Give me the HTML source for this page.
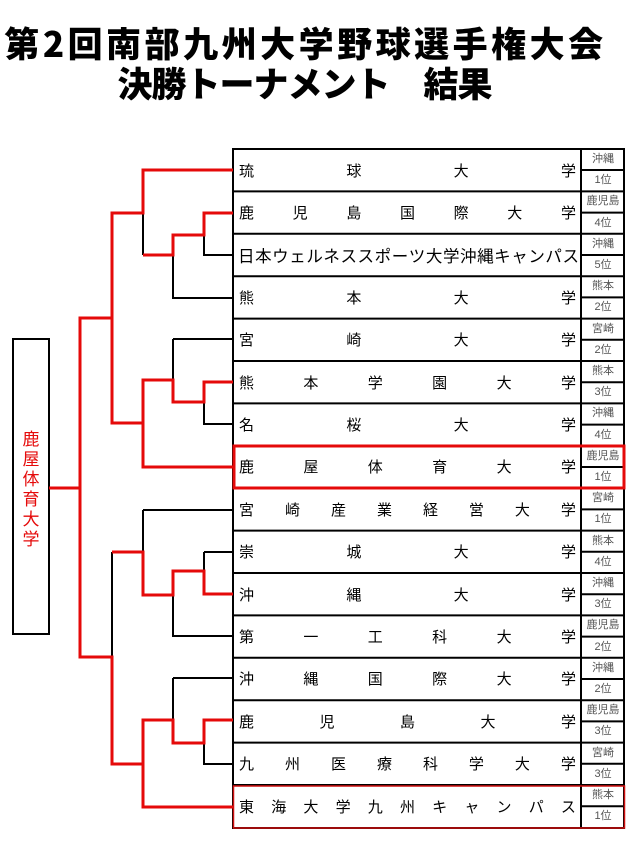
<!DOCTYPE html>
<html><head><meta charset="utf-8"><style>
body{margin:0;background:#fff;width:635px;height:846px;position:relative;overflow:hidden;font-family:"Liberation Sans","Noto Sans CJK JP",sans-serif}
.t{position:absolute;left:0;width:635px;text-align:center;font-family:"Noto Sans CJK JP",sans-serif;font-weight:900;color:#000;white-space:nowrap}
.row{position:absolute;left:234px;width:347px;height:42px;display:flex;justify-content:space-between;align-items:center;padding:0 5px 0 5px;box-sizing:border-box;font-size:15px;color:#000}
.p{position:absolute;left:582px;width:42px;height:21px;font-size:11px;color:#555;text-align:center;line-height:21px}
svg{position:absolute;left:0;top:0}
</style></head><body>
<div class="t" style="top:23px;font-size:35px;line-height:40px;left:-12px;letter-spacing:3.5px">第2回南部九州大学野球選手権大会</div>
<div class="t" style="top:63px;font-size:35px;line-height:40px;left:-13px;letter-spacing:-1px">決勝トーナメント　結果</div>

<svg width="635" height="846">
<g stroke="#000" stroke-width="2" fill="none">
<rect x="233" y="149" width="391" height="679"/>
<line x1="581" y1="149" x2="581" y2="828"/>
<path d="M233 191.4H624M233 233.8H624M233 276.2H624M233 318.6H624M233 361H624M233 403.4H624M233 445.8H624M233 488.2H624M233 530.6H624M233 573H624M233 615.4H624M233 657.8H624M233 700.2H624M233 742.6H624M233 785H624"/>
<path d="M581 170H624M581 212.6H624M581 255H624M581 297.4H624M581 339.8H624M581 382.2H624M581 424.6H624M581 467H624M581 509.4H624M581 551.8H624M581 594.2H624M581 636.6H624M581 679H624M581 721.4H624M581 763.8H624M581 806.2H624"/>
<path d="M143 213V255M204 235V255H233M173 255V298H233M112 213V318M173 339H233V339M173 339V380M143 380V423M204 402V424H233M80 488V657"/>
<path d="M143 510H233M143 510V552M204 552H233M204 552V571M173 595V636H233M112 552V657M173 678H233M173 678V720M143 720V764M204 743V764H233"/>
<rect x="13" y="339" width="36" height="295"/>
</g>
<g stroke="#e50a0a" stroke-width="3" fill="none" stroke-linejoin="miter">
<path d="M233 170H143V213H112V318H80V488H49"/>
<path d="M233 213H204V235H173V255H143"/>
<path d="M112 318V423H143V467H233"/>
<path d="M143 423V380H173V402H204V382H233"/>
<path d="M80 488V657H112V764H143V807H233"/>
<path d="M112 552H143V595H173V571H204V594H233"/>
<path d="M143 764V720H173V743H204V720H233"/>
<rect x="234" y="446" width="390" height="42"/>
</g>
<rect x="233.5" y="786" width="391" height="42" stroke="#d01010" stroke-width="1.5" fill="none"/>
</svg>

<div style="position:absolute;left:13px;top:428px;width:36px;text-align:center;color:#e50a0a;font-size:17px;line-height:20px;font-family:'Noto Sans CJK JP',sans-serif">鹿<br>屋<br>体<br>育<br>大<br>学</div>

<div class="row" style="top:149px"><span>琉</span><span>球</span><span>大</span><span>学</span></div>
<div class="row" style="top:191.4px"><span>鹿</span><span>児</span><span>島</span><span>国</span><span>際</span><span>大</span><span>学</span></div>
<div class="row" style="top:233.8px;font-size:16.5px;padding:0 2px 0 4px"><span>日</span><span>本</span><span>ウ</span><span>ェ</span><span>ル</span><span>ネ</span><span>ス</span><span>ス</span><span>ポ</span><span>ー</span><span>ツ</span><span>大</span><span>学</span><span>沖</span><span>縄</span><span>キ</span><span>ャ</span><span>ン</span><span>パ</span><span>ス</span></div>
<div class="row" style="top:276.2px"><span>熊</span><span>本</span><span>大</span><span>学</span></div>
<div class="row" style="top:318.6px"><span>宮</span><span>崎</span><span>大</span><span>学</span></div>
<div class="row" style="top:361px"><span>熊</span><span>本</span><span>学</span><span>園</span><span>大</span><span>学</span></div>
<div class="row" style="top:403.4px"><span>名</span><span>桜</span><span>大</span><span>学</span></div>
<div class="row" style="top:445.8px"><span>鹿</span><span>屋</span><span>体</span><span>育</span><span>大</span><span>学</span></div>
<div class="row" style="top:488.2px"><span>宮</span><span>崎</span><span>産</span><span>業</span><span>経</span><span>営</span><span>大</span><span>学</span></div>
<div class="row" style="top:530.6px"><span>崇</span><span>城</span><span>大</span><span>学</span></div>
<div class="row" style="top:573px"><span>沖</span><span>縄</span><span>大</span><span>学</span></div>
<div class="row" style="top:615.4px"><span>第</span><span>一</span><span>工</span><span>科</span><span>大</span><span>学</span></div>
<div class="row" style="top:657.8px"><span>沖</span><span>縄</span><span>国</span><span>際</span><span>大</span><span>学</span></div>
<div class="row" style="top:700.2px"><span>鹿</span><span>児</span><span>島</span><span>大</span><span>学</span></div>
<div class="row" style="top:742.6px"><span>九</span><span>州</span><span>医</span><span>療</span><span>科</span><span>学</span><span>大</span><span>学</span></div>
<div class="row" style="top:785px"><span>東</span><span>海</span><span>大</span><span>学</span><span>九</span><span>州</span><span>キ</span><span>ャ</span><span>ン</span><span>パ</span><span>ス</span></div>

<div class="p" style="top:149px">沖縄</div><div class="p" style="top:170px">1位</div>
<div class="p" style="top:191.4px">鹿児島</div><div class="p" style="top:212.6px">4位</div>
<div class="p" style="top:233.8px">沖縄</div><div class="p" style="top:255px">5位</div>
<div class="p" style="top:276.2px">熊本</div><div class="p" style="top:297.4px">2位</div>
<div class="p" style="top:318.6px">宮崎</div><div class="p" style="top:339.8px">2位</div>
<div class="p" style="top:361px">熊本</div><div class="p" style="top:382.2px">3位</div>
<div class="p" style="top:403.4px">沖縄</div><div class="p" style="top:424.6px">4位</div>
<div class="p" style="top:445.8px">鹿児島</div><div class="p" style="top:467px">1位</div>
<div class="p" style="top:488.2px">宮崎</div><div class="p" style="top:509.4px">1位</div>
<div class="p" style="top:530.6px">熊本</div><div class="p" style="top:551.8px">4位</div>
<div class="p" style="top:573px">沖縄</div><div class="p" style="top:594.2px">3位</div>
<div class="p" style="top:615.4px">鹿児島</div><div class="p" style="top:636.6px">2位</div>
<div class="p" style="top:657.8px">沖縄</div><div class="p" style="top:679px">2位</div>
<div class="p" style="top:700.2px">鹿児島</div><div class="p" style="top:721.4px">3位</div>
<div class="p" style="top:742.6px">宮崎</div><div class="p" style="top:763.8px">3位</div>
<div class="p" style="top:785px">熊本</div><div class="p" style="top:806.2px">1位</div>
</body></html>
